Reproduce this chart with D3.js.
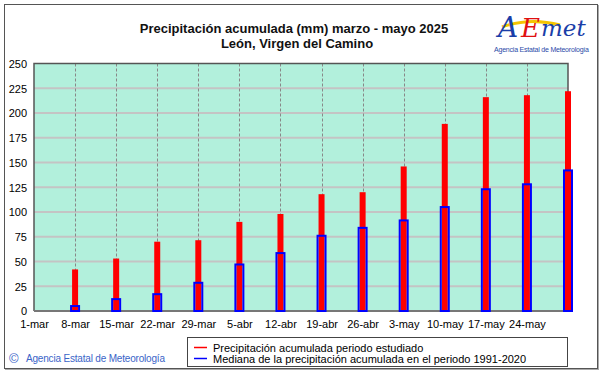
<!DOCTYPE html>
<html><head><meta charset="utf-8">
<script src="https://cdn.jsdelivr.net/npm/d3@7"></script>
<style>body{margin:0;background:#fff}svg{display:block;font-family:Arial,"Liberation Sans",sans-serif}</style>
</head><body>
<script>
const dates = ["2025-03-08","2025-03-15","2025-03-22","2025-03-29","2025-04-05","2025-04-12","2025-04-19","2025-04-26","2025-05-03","2025-05-10","2025-05-17","2025-05-24","2025-05-31"];
const precip2025 = [42, 53, 70, 71.5, 90, 98, 118, 120, 146, 189, 216, 218, 222];
const median = [5, 12, 17, 28.5, 47, 58.5, 76, 84, 91.5, 105, 123, 128, 142];
const yTicks = [0,25,50,75,100,125,150,175,200,225,250];
const xTickLabels = ["1-mar","8-mar","15-mar","22-mar","29-mar","5-abr","12-abr","19-abr","26-abr","3-may","10-may","17-may","24-may"];
const title1 = "Precipitación acumulada (mm) marzo - mayo 2025";
const title2 = "León, Virgen del Camino";
const legendLabels = ["Precipitación acumulada periodo estudiado","Mediana de la precipitación acumulada en el periodo 1991-2020"];

const W=601,H=374;
const svg=d3.select("body").append("svg").attr("width",W).attr("height",H);
const parse=d3.timeParse("%Y-%m-%d");
const x=d3.scaleTime().domain([parse("2025-03-01"),parse("2025-05-31")]).range([34,568]);
const y=d3.scaleLinear().domain([0,250]).range([311,63.5]);

// outer frame
svg.append("rect").attr("x",4.5).attr("y",4.5).attr("width",593).attr("height",364).attr("fill","#fff").attr("stroke","#555").attr("stroke-width",1);
svg.append("line").attr("x1",5).attr("x2",598).attr("y1",369.5).attr("y2",369.5).attr("stroke","#aaa");
svg.append("line").attr("x1",598.5).attr("x2",598.5).attr("y1",5).attr("y2",370).attr("stroke","#aaa");

// titles
svg.append("text").attr("x",294).attr("y",33).attr("text-anchor","middle").attr("font-size",13).attr("font-weight","bold").attr("fill","#111").text(title1);
svg.append("text").attr("x",297).attr("y",48).attr("text-anchor","middle").attr("font-size",13).attr("font-weight","bold").attr("fill","#111").text(title2);

// logo
const logo=svg.append("g");
logo.append("path").attr("d","M502,27 Q530,17 560,25").attr("fill","none").attr("stroke","#f5c400").attr("stroke-width",3);
logo.append("text").attr("x",498).attr("y",37).attr("font-size",28).attr("font-style","italic").attr("fill","#1a3ea8").attr("font-family","'DejaVu Serif',serif").text("A");
logo.append("text").attr("x",521).attr("y",37).attr("font-size",26).attr("font-style","italic").attr("fill","#e01010").attr("font-family","'DejaVu Serif',serif").text("E");
logo.append("text").attr("x",541).attr("y",36).attr("font-size",23).attr("font-style","italic").attr("fill","#1a3ea8").attr("font-family","'DejaVu Serif',serif").text("met");
logo.append("text").attr("x",494).attr("y",52).attr("font-size",7).attr("fill","#2a4aa8").attr("textLength",95).text("Agencia Estatal de Meteorología");

// plot background
svg.append("rect").attr("x",34).attr("y",63.5).attr("width",534).attr("height",247.5).attr("fill","#b2f0dc");

// horizontal grid
svg.append("g").selectAll("line").data(yTicks.filter(d=>d>0&&d<250)).join("line")
 .attr("x1",34).attr("x2",568).attr("y1",d=>y(d)).attr("y2",d=>y(d)).attr("stroke","#c4c4c4").attr("stroke-width",2);
// vertical dashed grid
svg.append("g").selectAll("line").data(dates.slice(0,-1)).join("line")
 .attr("x1",d=>Math.round(x(parse(d)))+0.5).attr("x2",d=>Math.round(x(parse(d)))+0.5).attr("y1",63.5).attr("y2",311)
 .attr("stroke","#888").attr("stroke-dasharray","3,2");

// plot border
svg.append("path").attr("d","M34,311 V63.5 H568 V311").attr("fill","none").attr("stroke","#555").attr("stroke-width",1.5);
svg.append("line").attr("x1",34).attr("x2",568).attr("y1",311).attr("y2",311).attr("stroke","#777").attr("stroke-width",2);

// bars
svg.append("g").selectAll("rect").data(dates).join("rect")
 .attr("x",d=>x(parse(d))-3).attr("width",6)
 .attr("y",(d,i)=>y(precip2025[i])).attr("height",(d,i)=>y(0)-y(precip2025[i]))
 .attr("fill","#ff0000");
svg.append("g").selectAll("rect").data(dates).join("rect")
 .attr("x",d=>x(parse(d))-4).attr("width",8)
 .attr("y",(d,i)=>y(median[i])).attr("height",(d,i)=>y(0)-y(median[i]))
 .attr("fill","none").attr("stroke","#0000ff").attr("stroke-width",2);

// y axis labels
const yAxis=d3.axisLeft(y).tickValues(yTicks).tickSize(0).tickPadding(7);
const ya=svg.append("g").attr("transform","translate(34,0)").call(yAxis);
ya.select(".domain").remove();
ya.selectAll("text").attr("font-size",11).attr("font-family","Arial,'Liberation Sans',sans-serif").attr("fill","#000").attr("dy","0.35em");

// x axis labels
const xTickDates=[parse("2025-03-01")].concat(dates.slice(0,12).map(parse));
const xAxis=d3.axisBottom(x).tickValues(xTickDates).tickSize(0).tickPadding(9).tickFormat((d,i)=>xTickLabels[i]);
const xa=svg.append("g").attr("transform","translate(0,311)").call(xAxis);
xa.select(".domain").remove();
xa.selectAll("text").attr("font-size",11).attr("font-family","Arial,'Liberation Sans',sans-serif").attr("fill","#000");

// legend
svg.append("rect").attr("x",187.5).attr("y",337.5).attr("width",380).attr("height",29).attr("fill","#fff").attr("stroke","#444");
const colors=["#ff0000","#0000ff"];
legendLabels.forEach((t,i)=>{
  const yy=347.5+i*11;
  svg.append("line").attr("x1",194).attr("x2",207).attr("y1",yy).attr("y2",yy).attr("stroke",colors[i]).attr("stroke-width",1.5);
  svg.append("text").attr("x",213).attr("y",yy+4).attr("font-size",11).attr("fill","#000").text(t);
});

// copyright
svg.append("text").attr("x",9).attr("y",363).attr("font-size",13).attr("fill","#3a64c8").text("©");
svg.append("text").attr("x",26).attr("y",362).attr("font-size",10).attr("fill","#3a64c8").attr("textLength",139).text("Agencia Estatal de Meteorología");
</script>
</body></html>
